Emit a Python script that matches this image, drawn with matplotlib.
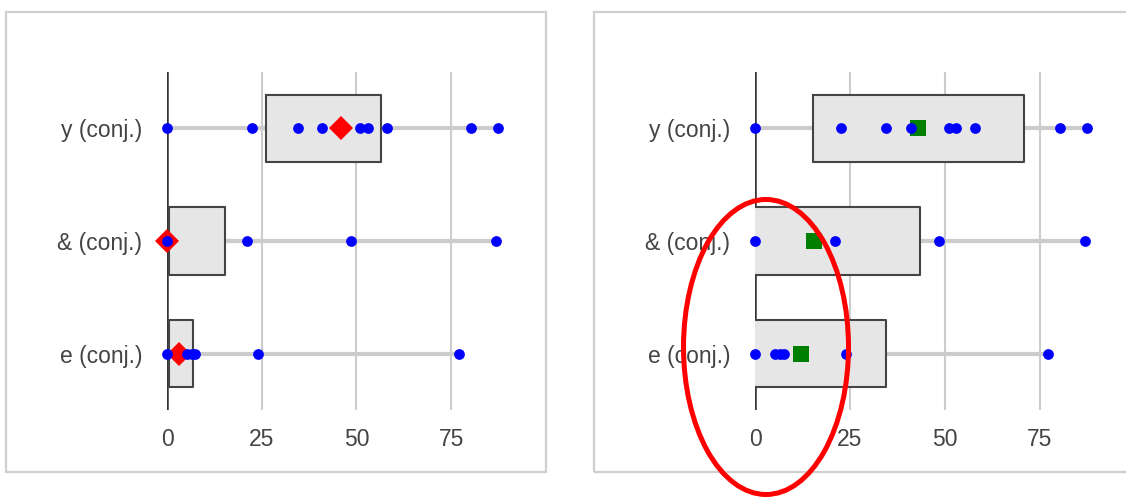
import matplotlib.pyplot as plt
from matplotlib.patches import Rectangle, Ellipse
import numpy as np

categories = ['y (conj.)', '& (conj.)', 'e (conj.)']

# raw values per category
points_y = [0, 22.5, 34.5, 41, 51, 53, 58, 80.3, 87.4]
points_amp = [0, 21, 48.5, 86.8]
points_e = [0, 5.3, 6.6, 7.5, 24, 77]
all_points = [points_y, points_amp, points_e]

# left chart: box ranges + red diamond marker
left_lo = [26, 0.5, 0.5]
left_hi = [56.6, 15.4, 6.9]
left_mark = [46, 0, 3.1]

# right chart: box ranges + green square marker
right_lo = [15.3, 0, 0]
right_hi = [70.8, 43.4, 34.4]
right_mark = [42.8, 15.6, 12.1]

x_ticks = [0, 25, 50, 75]

W, H = 1126, 497
fig = plt.figure(figsize=(W / 100, H / 100), dpi=100)
plt.rcParams['font.family'] = ['Liberation Sans', 'DejaVu Sans']

def px_axes(x0, y0, x1, y1):
    return fig.add_axes([x0 / W, 1 - y1 / H, (x1 - x0) / W, (y1 - y0) / H])

def panel_frame(x0, y0, x1, y1):
    r = Rectangle((x0 / W, 1 - y1 / H), (x1 - x0) / W, (y1 - y0) / H,
                  transform=fig.transFigure, fill=False, edgecolor='#cfcfcf',
                  linewidth=1.6)
    fig.patches.append(r)

def draw_box_chart(ax, lo, hi, marks, marker, mcolor, msize):
    ax.set_xlim(0, 95)
    ax.set_ylim(2.5, -0.5)
    for x in x_ticks[1:]:
        ax.axvline(x, color='#cccccc', lw=1.5, zorder=1)
    ax.axvline(0, color='#333333', lw=1.8, zorder=2)
    for i, pts in enumerate(all_points):
        ax.plot([min(pts), max(pts)], [i, i], color='#cccccc', lw=3,
                solid_capstyle='butt', zorder=3)
        ax.add_patch(Rectangle((lo[i], i - 0.3), hi[i] - lo[i], 0.6,
                               facecolor='#e6e6e6', edgecolor='none', zorder=4))
        if lo[i] > 0:
            ex = [lo[i], hi[i], hi[i], lo[i], lo[i]]
            ey = [i - 0.3, i - 0.3, i + 0.3, i + 0.3, i - 0.3]
        else:
            ex = [lo[i], hi[i], hi[i], lo[i]]
            ey = [i - 0.3, i - 0.3, i + 0.3, i + 0.3]
        ax.plot(ex, ey, color='#444444', lw=1.5, zorder=5)
        ax.plot(marks[i], i, marker=marker, color=mcolor, ms=msize,
                mew=0, zorder=6, clip_on=False)
        ax.scatter(pts, [i] * len(pts), s=60, color='#0000ff',
                   linewidths=0, zorder=7, clip_on=False)
    ax.set_yticks(range(len(categories)))
    ax.set_yticklabels(categories)
    ax.set_xticks(x_ticks)
    ax.tick_params(axis='y', length=0, pad=18, labelsize=16.5, labelcolor='#444444')
    ax.tick_params(axis='x', length=0, pad=13, labelsize=16.5, labelcolor='#444444')
    for s in ax.spines.values():
        s.set_visible(False)
    ax.set_facecolor('none')

panel_frame(6, 12, 546, 472)
panel_frame(594, 12, 1130, 472)

ax1 = px_axes(167, 72, 527, 410)
draw_box_chart(ax1, left_lo, left_hi, left_mark, 'D', '#ff0000', 12)

ax2 = px_axes(755, 72, 1116, 410)
draw_box_chart(ax2, right_lo, right_hi, right_mark, 's', '#008000', 11.5)

# red ellipse highlighting the low end of the right chart
ell = Ellipse((766 / W, 1 - 347 / H), 165 / W, 295 / H,
              transform=fig.transFigure, fill=False, edgecolor='#ff0000',
              linewidth=3.6, zorder=10)
fig.patches.append(ell)

fig.savefig('out.png', dpi=100)
